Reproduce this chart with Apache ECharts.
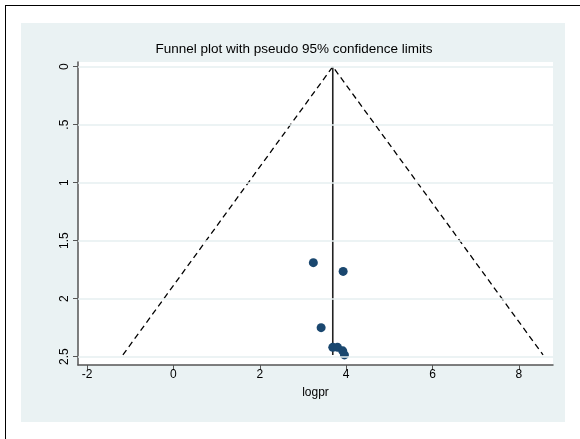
<!DOCTYPE html>
<html>
<head>
	<meta charset="utf-8">
	<title>funnel</title>
	<script src="https://cdn.jsdelivr.net/npm/echarts@6/dist/echarts.min.js"></script>
	<style type="text/css">
		*{margin:0;padding:0;}
		body{background:#fff;width:580px;height:439px;overflow:hidden;position:relative;}
		.frame{position:absolute;left:5px;top:5px;width:580px;height:440px;border-top:1px solid #000;border-left:1px solid #000;}
		.region{position:absolute;left:21px;top:23px;width:544px;height:399px;background:#eaf2f3;}
		#main{position:absolute;left:0;top:0;width:580px;height:439px;}
	</style>
</head>
<body>
	<div class="frame"></div>
	<div class="region"></div>
	<div id="main"></div>
	<script type="text/javascript">
		// study points (logpr, s.e.)
		var logpr = [3.24, 3.93, 3.42, 3.69, 3.80, 3.92, 3.96];
		var se = [1.69, 1.765, 2.25, 2.42, 2.42, 2.45, 2.485];
		// pooled estimate and pseudo 95% limits
		var pooled = 3.69;
		var maxSe = 2.485;
		var ciLow = -1.17;
		var ciHigh = 8.56;
		var xTicks = [-2, 0, 2, 4, 6, 8];
		var yTicks = [0, 0.5, 1, 1.5, 2, 2.5];
		var yLabels = ['0', '.5', '1', '1.5', '2', '2.5'];

		var pts = [];
		for (var i = 0; i < logpr.length; i++) {
			pts.push([logpr[i], se[i]]);
		}

		var myChart = echarts.init(document.getElementById('main'));
		var option = {
			animation: false,
			textStyle: {fontFamily: 'Liberation Sans, Arial, sans-serif'},
			title: {
				text: 'Funnel plot with pseudo 95% confidence limits',
				left: 289,
				textAlign: 'center',
				top: 37,
				textStyle: {fontSize: 13.5, fontWeight: 'normal', color: '#000'}
			},
			grid: {
				left: 78, right: 27, top: 62, bottom: 74,
				show: true, backgroundColor: '#fff', borderWidth: 0
			},
			xAxis: {
				type: 'value',
				min: -2.21,
				max: 8.79,
				name: 'logpr',
				nameLocation: 'middle',
				nameGap: 22,
				nameTextStyle: {fontSize: 12, color: '#000'},
				axisLine: {onZero: false, lineStyle: {color: '#555', width: 1.5}},
				axisTick: {show: true, length: 5, lineStyle: {color: '#555'}, customValues: xTicks},
				axisLabel: {fontSize: 12, color: '#000', margin: 4, customValues: xTicks},
				splitLine: {show: false}
			},
			yAxis: {
				type: 'value',
				inverse: true,
				min: -0.04,
				max: 2.572,
				axisLine: {show: true, onZero: false, lineStyle: {color: '#555', width: 1.5}},
				axisTick: {show: true, length: 5, lineStyle: {color: '#555'}, customValues: yTicks},
				axisLabel: {
					fontSize: 12, color: '#000', rotate: 90, margin: 7,
					customValues: yTicks,
					formatter: function (v) {
						var k = yTicks.indexOf(v);
						return k >= 0 ? yLabels[k] : '';
					}
				},
				splitLine: {show: false}
			},
			series: [
				{
					// horizontal grid lines
					type: 'line',
					data: [],
					silent: true,
					markLine: {
						silent: true,
						symbol: 'none',
						label: {show: false},
						lineStyle: {color: '#e6eff1', width: 1.5, type: 'solid'},
						data: yTicks.map(function (v) { return {yAxis: v}; })
					}
				},
				{
					type: 'line',
					data: [[ciLow, maxSe], [pooled, 0], [ciHigh, maxSe]],
					symbol: 'none',
					lineStyle: {color: '#000', width: 1.3, type: [6, 4]},
					z: 3
				},
				{
					type: 'line',
					data: [[pooled, 0], [pooled, maxSe]],
					symbol: 'none',
					lineStyle: {color: '#222', width: 1.6},
					z: 3
				},
				{
					type: 'scatter',
					data: pts,
					symbolSize: 9,
					itemStyle: {color: '#1a476f', opacity: 1},
					z: 4
				}
			]
		};
		myChart.setOption(option);
	</script>
</body>
</html>
